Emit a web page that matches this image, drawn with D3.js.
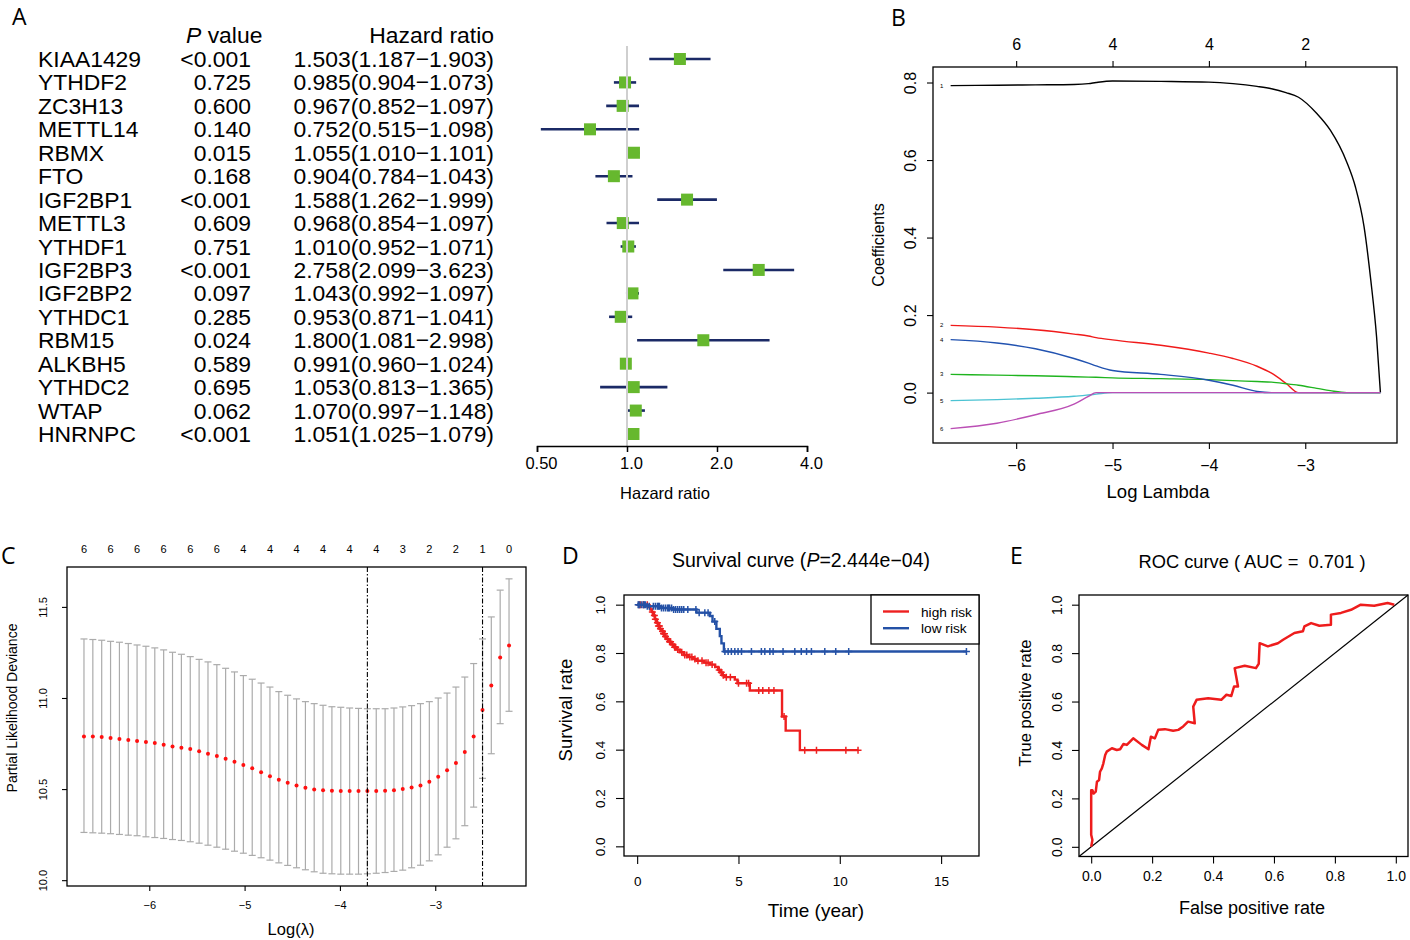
<!DOCTYPE html>
<html>
<head>
<meta charset="utf-8">
<script src="https://cdn.jsdelivr.net/npm/d3@7"></script>
<style>
body { margin: 0; background: #fff; }
</style>
</head>
<body>
<script>
const FONT = '"Liberation Sans", Arial, Helvetica, sans-serif';

// ---- Panel A: univariate Cox forest plot ----
const genes = ["KIAA1429", "YTHDF2", "ZC3H13", "METTL14", "RBMX", "FTO", "IGF2BP1", "METTL3", "YTHDF1",
    "IGF2BP3", "IGF2BP2", "YTHDC1", "RBM15", "ALKBH5", "YTHDC2", "WTAP", "HNRNPC"];
const pValues = ["<0.001", "0.725", "0.600", "0.140", "0.015", "0.168", "<0.001", "0.609", "0.751",
    "<0.001", "0.097", "0.285", "0.024", "0.589", "0.695", "0.062", "<0.001"];
const hr = [1.503, 0.985, 0.967, 0.752, 1.055, 0.904, 1.588, 0.968, 1.010, 2.758, 1.043, 0.953, 1.800, 0.991, 1.053, 1.070, 1.051];
const hrLow = [1.187, 0.904, 0.852, 0.515, 1.010, 0.784, 1.262, 0.854, 0.952, 2.099, 0.992, 0.871, 1.081, 0.960, 0.813, 0.997, 1.025];
const hrHigh = [1.903, 1.073, 1.097, 1.098, 1.101, 1.043, 1.999, 1.097, 1.071, 3.623, 1.097, 1.041, 2.998, 1.024, 1.365, 1.148, 1.079];
const hrTicks = [0.5, 1, 2, 4];
const hrTickLabels = ["0.50", "1.0", "2.0", "4.0"];

// ---- Panel B: LASSO coefficient paths ----
const pathLambda = [-6.68, -6.2, -5.8, -5.4, -5.25, -5.17, -5.0, -4.5, -4.0, -3.75, -3.5, -3.35, -3.2, -3.07, -2.88, -2.74, -2.57, -2.48, -2.39, -2.32, -2.26, -2.22];
const coef1 = [0.792, 0.793, 0.794, 0.795, 0.797, 0.800, 0.804, 0.803, 0.801, 0.797, 0.790, 0.784, 0.774, 0.762, 0.720, 0.677, 0.595, 0.531, 0.428, 0.290, 0.144, 0];
const coef2 = [0.1735, 0.169, 0.162, 0.151, 0.146, 0.142, 0.136, 0.122, 0.102, 0.088, 0.068, 0.050, 0.024, 0, 0, 0, 0, 0, 0, 0, 0, 0];
const coef3 = [0.047, 0.045, 0.0435, 0.041, 0.040, 0.0395, 0.038, 0.036, 0.0335, 0.031, 0.0285, 0.027, 0.023, 0.019, 0.011, 0.005, 0, 0, 0, 0, 0, 0];
const coef4 = [0.1366, 0.128, 0.113, 0.088, 0.076, 0.069, 0.057, 0.047, 0.032, 0.019, 0.003, 0, 0, 0, 0, 0, 0, 0, 0, 0, 0, 0];
const coef5 = [-0.0206, -0.018, -0.0146, -0.0095, -0.006, -0.004, 0, 0, 0, 0, 0, 0, 0, 0, 0, 0, 0, 0, 0, 0, 0, 0];
const coef6 = [-0.0928, -0.079, -0.057, -0.030, -0.010, 0, 0, 0, 0, 0, 0, 0, 0, 0, 0, 0, 0, 0, 0, 0, 0, 0];
const pathTopLabels = ["6", "4", "4", "2"];

// ---- Panel C: cross-validation deviance ----
const cvLambda = [-6.685, -6.592, -6.499, -6.406, -6.313, -6.220, -6.128, -6.035, -5.942, -5.849, -5.756, -5.663,
    -5.570, -5.477, -5.384, -5.291, -5.199, -5.106, -5.013, -4.920, -4.827, -4.734, -4.641, -4.548, -4.455,
    -4.362, -4.270, -4.177, -4.084, -3.991, -3.898, -3.805, -3.712, -3.619, -3.526, -3.433, -3.341, -3.248,
    -3.155, -3.062, -2.969, -2.876, -2.783, -2.690, -2.597, -2.504, -2.412, -2.319, -2.226];
const cvMean = [10.789, 10.789, 10.786, 10.780, 10.775, 10.770, 10.764, 10.758, 10.753, 10.744, 10.734, 10.727,
    10.720, 10.707, 10.694, 10.681, 10.667, 10.650, 10.632, 10.614, 10.592, 10.570, 10.551, 10.535, 10.520,
    10.507, 10.498, 10.494, 10.491, 10.489, 10.489, 10.489, 10.489, 10.489, 10.491, 10.494, 10.500, 10.509,
    10.520, 10.540, 10.568, 10.603, 10.643, 10.703, 10.789, 10.934, 11.068, 11.222, 11.288];
const cvUp = [11.324, 11.321, 11.317, 11.311, 11.306, 11.299, 11.291, 11.284, 11.275, 11.264, 11.251, 11.240,
    11.227, 11.212, 11.198, 11.183, 11.163, 11.143, 11.123, 11.103, 11.082, 11.060, 11.035, 11.015, 10.995,
    10.980, 10.969, 10.960, 10.952, 10.949, 10.945, 10.943, 10.941, 10.941, 10.941, 10.945, 10.951, 10.958,
    10.969, 10.980, 11.000, 11.027, 11.060, 11.115, 11.189, 11.324, 11.445, 11.592, 11.654];
const cvLo = [10.262, 10.260, 10.258, 10.255, 10.251, 10.247, 10.244, 10.238, 10.234, 10.229, 10.223, 10.218,
    10.211, 10.203, 10.192, 10.181, 10.170, 10.159, 10.148, 10.136, 10.123, 10.110, 10.095, 10.081, 10.068,
    10.057, 10.046, 10.038, 10.035, 10.033, 10.033, 10.033, 10.035, 10.038, 10.042, 10.048, 10.055, 10.068,
    10.082, 10.106, 10.139, 10.181, 10.227, 10.299, 10.401, 10.559, 10.694, 10.859, 10.927];
const cvNonzero = ["6", "6", "6", "6", "6", "6", "4", "4", "4", "4", "4", "4", "3", "2", "2", "1", "0"];
const lambdaMin = -3.712;
const lambda1se = -2.504;

// ---- Panel D: Kaplan-Meier ----
const highTime = [0.55, 0.65, 0.72, 0.80, 0.88, 0.95, 1.03, 1.12, 1.20, 1.28, 1.37, 1.45, 1.55, 1.69, 1.82, 1.94,
    2.10, 2.30, 2.50, 2.75, 2.95, 3.30, 3.60, 3.85, 4.00, 4.10, 4.20, 4.30, 4.82, 4.95, 5.56, 7.15, 7.33, 8.03];
const highSurv = [0.99, 0.98, 0.97, 0.955, 0.94, 0.925, 0.912, 0.90, 0.89, 0.88, 0.868, 0.858, 0.847, 0.835, 0.824, 0.814,
    0.803, 0.792, 0.783, 0.775, 0.768, 0.76, 0.752, 0.742, 0.73, 0.72, 0.708, 0.70, 0.69, 0.675, 0.645, 0.537, 0.479, 0.398];
const highCensor = [0.1, 0.15, 0.3, 0.5, 0.75, 0.85, 0.9, 1.0, 1.05, 1.1, 1.15, 1.25, 1.3, 1.35, 1.4, 1.5, 1.6, 1.65,
    1.75, 1.85, 1.9, 2.0, 2.2, 2.35, 2.45, 2.6, 2.7, 2.85, 3.0, 3.2, 3.4, 3.5, 3.7, 4.05, 4.15, 4.25, 4.4, 4.6,
    5.0, 5.4, 5.5, 6.0, 6.2, 6.5, 6.75, 7.25, 8.27, 8.85, 10.3, 10.9];
const lowTime = [0.45, 1.12, 1.75, 2.93, 3.59, 3.72, 3.91, 4.08, 4.16, 4.28];
const lowSurv = [0.993, 0.986, 0.98, 0.967, 0.953, 0.93, 0.90, 0.87, 0.84, 0.806];
const lowCensor = [0.05, 0.1, 0.2, 0.3, 0.35, 0.4, 0.5, 0.6, 0.8, 0.9, 1.0, 1.05, 1.1, 1.2, 1.3, 1.4, 1.5, 1.55, 1.6,
    1.7, 1.8, 1.9, 2.0, 2.1, 2.2, 2.3, 2.5, 2.9, 3.06, 3.34, 3.5, 3.83, 4.33, 4.49, 4.65, 4.82, 4.98, 5.15, 5.64,
    6.13, 6.3, 6.55, 6.71, 7.2, 7.78, 8.1, 8.36, 8.6, 9.26, 9.8, 10.44, 16.25];
const survGroups = ["high risk", "low risk"];

// ---- Panel E: ROC ----
const rocFpr = [0, 0.004, 0, 0, 0.004, 0.008, 0.015, 0.019, 0.026, 0.029, 0.035, 0.04, 0.046, 0.051, 0.068, 0.084,
    0.095, 0.106, 0.117, 0.138, 0.166, 0.188, 0.196, 0.209, 0.22, 0.242, 0.269, 0.286, 0.302, 0.318, 0.34, 0.335,
    0.346, 0.384, 0.427, 0.444, 0.46, 0.469, 0.482, 0.471, 0.504, 0.541, 0.55, 0.553, 0.58, 0.613, 0.63, 0.667,
    0.695, 0.7, 0.722, 0.749, 0.787, 0.787, 0.82, 0.853, 0.885, 0.929, 0.973, 0.995];
const rocTpr = [0, 0.028, 0.05, 0.234, 0.234, 0.22, 0.228, 0.269, 0.276, 0.31, 0.324, 0.345, 0.379, 0.393, 0.407, 0.40,
    0.403, 0.425, 0.421, 0.448, 0.421, 0.403, 0.455, 0.448, 0.483, 0.486, 0.479, 0.483, 0.497, 0.517, 0.51, 0.579,
    0.607, 0.614, 0.607, 0.628, 0.623, 0.662, 0.662, 0.738, 0.748, 0.738, 0.756, 0.841, 0.828, 0.841, 0.855, 0.883,
    0.89, 0.91, 0.924, 0.913, 0.917, 0.959, 0.966, 0.979, 1.0, 0.996, 1.007, 1.0];
const auc = 0.701;

const svg = d3.select("body").append("svg")
    .attr("width", 1410)
    .attr("height", 940)
    .attr("font-family", FONT);

// panel letters
[["A", 12, 25], ["B", 891, 26], ["C", 1, 564], ["D", 562, 564], ["E", 1010, 564]].forEach(([t, x, y]) => {
    svg.append("text").attr("x", x).attr("y", y)
        .attr("font-family", '"Open Sans", "DejaVu Sans", sans-serif')
        .attr("font-size", 23).text(t);
});

// shared axis styling helpers
function styleAxis(g, size) {
    g.attr("font-family", FONT).attr("font-size", size);
    g.select(".domain").remove();
    g.selectAll(".tick line").attr("stroke", "#000").attr("stroke-width", 1.1);
}
function bottomLabels(g, off) {
    g.selectAll(".tick text").attr("y", off).attr("dy", null);
}
function leftRotated(g, off) {
    g.selectAll(".tick text")
        .attr("x", 0).attr("dy", null)
        .attr("text-anchor", "middle")
        .attr("transform", `translate(${-off},0) rotate(-90)`);
}
function box(x, y) {
    svg.append("rect")
        .attr("x", x.range()[0]).attr("y", y.range()[1])
        .attr("width", x.range()[1] - x.range()[0])
        .attr("height", y.range()[0] - y.range()[1])
        .attr("fill", "none").attr("stroke", "#000").attr("stroke-width", 1.3);
}

// ================= Panel A =================
(function () {
    const x = d3.scaleLog().base(2).domain([0.5, 4]).range([537, 807]);
    const y = d3.scalePoint().domain(genes).range([59, 434]);
    const fmt = d3.format(".3f");
    const g = svg.append("g").attr("font-size", 22.9);

    const head = g.append("text").attr("x", 186).attr("y", 43);
    head.append("tspan").attr("font-style", "italic").text("P");
    head.append("tspan").text(" value");
    g.append("text").attr("x", 494).attr("y", 43).attr("text-anchor", "end").text("Hazard ratio");

    const rows = g.selectAll("g.row")
        .data(genes.map((d, i) => ({ gene: d, p: pValues[i], hr: hr[i], lo: hrLow[i], hi: hrHigh[i] })))
        .join("g")
        .attr("transform", d => `translate(0,${y(d.gene)})`);
    rows.append("text").attr("x", 38).attr("y", 8).text(d => d.gene);
    rows.append("text").attr("x", 251).attr("y", 8).attr("text-anchor", "end").text(d => d.p);
    rows.append("text").attr("x", 494).attr("y", 8).attr("text-anchor", "end")
        .text(d => `${fmt(d.hr)}(${fmt(d.lo)}\u2212${fmt(d.hi)})`);

    // reference line at HR = 1
    g.append("line")
        .attr("x1", x(1)).attr("x2", x(1))
        .attr("y1", 46).attr("y2", 446)
        .attr("stroke", "#cfcfcf").attr("stroke-width", 2);

    rows.append("line")
        .attr("x1", d => x(d.lo)).attr("x2", d => x(d.hi))
        .attr("stroke", "#1b2a66").attr("stroke-width", 2.6);
    rows.append("rect")
        .attr("x", d => x(d.hr) - 6).attr("y", -6)
        .attr("width", 12).attr("height", 12)
        .attr("fill", "#66b82e");

    const ax = g.append("g")
        .attr("transform", "translate(0,446)")
        .call(d3.axisBottom(x).tickValues(hrTicks).tickFormat((d, i) => hrTickLabels[i]).tickSizeOuter(0).tickSize(6));
    ax.attr("font-family", FONT).attr("font-size", 16.5);
    ax.select(".domain").attr("stroke", "#000").attr("stroke-width", 1.5);
    ax.selectAll(".tick line").attr("stroke-width", 1.5);
    bottomLabels(ax, 23);
    ax.selectAll(".tick text").attr("dx", 4);
    g.append("text").attr("x", 665).attr("y", 499).attr("text-anchor", "middle")
        .attr("font-size", 16.5).text("Hazard ratio");
})();

// ================= Panel B =================
(function () {
    const x = d3.scaleLinear().domain([-6.863, -2.048]).range([933, 1397]);
    const y = d3.scaleLinear().domain([-0.130, 0.840]).range([443, 67]);
    const series = [
        { id: "1", values: coef1, color: "#000000" },
        { id: "2", values: coef2, color: "#f01a1a" },
        { id: "3", values: coef3, color: "#1fb41f" },
        { id: "4", values: coef4, color: "#2152b0" },
        { id: "5", values: coef5, color: "#4cc3d3" },
        { id: "6", values: coef6, color: "#bb4fb5" }
    ];
    const line = d3.line().x((d, i) => x(pathLambda[i])).y(d => y(d)).curve(d3.curveMonotoneX);
    svg.append("g").selectAll("path")
        .data(series)
        .join("path")
        .attr("d", d => line(d.values))
        .attr("fill", "none")
        .attr("stroke", d => d.color)
        .attr("stroke-width", 1.4);
    svg.append("g").selectAll("text")
        .data(series)
        .join("text")
        .attr("x", x(pathLambda[0]) - 9)
        .attr("y", d => y(d.values[0]) + 2)
        .attr("text-anchor", "middle")
        .attr("font-size", 6)
        .text(d => d.id);

    box(x, y);
    const bx = svg.append("g").attr("transform", "translate(0,443)")
        .call(d3.axisBottom(x).tickValues([-6, -5, -4, -3]).tickFormat(d3.format("d")).tickSize(6));
    styleAxis(bx, 16);
    bottomLabels(bx, 28);
    const tx = svg.append("g").attr("transform", "translate(0,67)")
        .call(d3.axisTop(x).tickValues([-6, -5, -4, -3]).tickFormat((d, i) => pathTopLabels[i]).tickSize(6));
    styleAxis(tx, 16);
    tx.selectAll(".tick text").attr("y", -17).attr("dy", null);
    const ly = svg.append("g").attr("transform", "translate(933,0)")
        .call(d3.axisLeft(y).tickValues([0, 0.2, 0.4, 0.6, 0.8]).tickFormat(d3.format(".1f")).tickSize(6));
    styleAxis(ly, 16);
    leftRotated(ly, 17);

    svg.append("text").attr("x", 1158).attr("y", 498).attr("text-anchor", "middle")
        .attr("font-size", 18.5).text("Log Lambda");
    svg.append("text").attr("transform", "translate(884,245) rotate(-90)")
        .attr("text-anchor", "middle").attr("font-size", 16).text("Coefficients");
})();

// ================= Panel C =================
(function () {
    const x = d3.scaleLinear().domain([-6.863, -2.048]).range([67, 526]);
    const y = d3.scaleLinear().domain([9.968, 11.719]).range([886, 567]);
    const pts = cvLambda.map((l, i) => ({ l, m: cvMean[i], up: cvUp[i], lo: cvLo[i] }));
    const g = svg.append("g");
    const bars = g.selectAll("g.bar").data(pts).join("g")
        .attr("stroke", "#ababab").attr("stroke-width", 1.2);
    bars.append("line")
        .attr("x1", d => x(d.l)).attr("x2", d => x(d.l))
        .attr("y1", d => y(d.up)).attr("y2", d => y(d.lo));
    bars.append("line")
        .attr("x1", d => x(d.l) - 3.5).attr("x2", d => x(d.l) + 3.5)
        .attr("y1", d => y(d.up)).attr("y2", d => y(d.up));
    bars.append("line")
        .attr("x1", d => x(d.l) - 3.5).attr("x2", d => x(d.l) + 3.5)
        .attr("y1", d => y(d.lo)).attr("y2", d => y(d.lo));
    g.selectAll("circle").data(pts).join("circle")
        .attr("cx", d => x(d.l)).attr("cy", d => y(d.m))
        .attr("r", 2).attr("fill", "#ff1010");

    [lambdaMin, lambda1se].forEach(v => {
        g.append("line")
            .attr("x1", x(v)).attr("x2", x(v))
            .attr("y1", y.range()[1]).attr("y2", y.range()[0])
            .attr("stroke", "#000").attr("stroke-width", 1.1)
            .attr("stroke-dasharray", "5,2,1.5,2");
    });

    box(x, y);
    const bx = svg.append("g").attr("transform", "translate(0,886)")
        .call(d3.axisBottom(x).tickValues([-6, -5, -4, -3]).tickFormat(d3.format("d")).tickSize(5));
    styleAxis(bx, 11);
    bottomLabels(bx, 23);
    const ly = svg.append("g").attr("transform", "translate(67,0)")
        .call(d3.axisLeft(y).tickValues([10, 10.5, 11, 11.5]).tickFormat(d3.format(".1f")).tickSize(5));
    styleAxis(ly, 11);
    leftRotated(ly, 20);

    svg.append("g").selectAll("text")
        .data(cvNonzero)
        .join("text")
        .attr("x", (d, i) => x(cvLambda[i * 3]))
        .attr("y", 553)
        .attr("text-anchor", "middle")
        .attr("font-size", 11)
        .text(d => d);

    svg.append("text").attr("x", 291).attr("y", 935).attr("text-anchor", "middle")
        .attr("font-size", 16.5).text("Log(\u03bb)");
    svg.append("text").attr("transform", "translate(17,708) rotate(-90)")
        .attr("text-anchor", "middle").attr("font-size", 14).text("Partial Likelihood Deviance");
})();

// ================= Panel D =================
(function () {
    const x = d3.scaleLinear().domain([-0.649, 16.87]).range([624, 979]);
    const y = d3.scaleLinear().domain([-0.04, 1.04]).range([856, 595]);
    const groups = [
        { name: survGroups[0], time: highTime, surv: highSurv, censor: highCensor, color: "#ee2020" },
        { name: survGroups[1], time: lowTime, surv: lowSurv, censor: lowCensor, color: "#2451a6" }
    ];
    const step = d3.line().x(d => x(d[0])).y(d => y(d[1])).curve(d3.curveStepAfter);
    const survAt = (gr, t) => {
        let s = 1;
        gr.time.forEach((tt, i) => { if (tt <= t) s = gr.surv[i]; });
        return s;
    };
    groups.forEach(gr => {
        const pts = [[0, 1]].concat(gr.time.map((t, i) => [t, gr.surv[i]]));
        pts.push([d3.max(gr.censor), gr.surv[gr.surv.length - 1]]);
        svg.append("path")
            .attr("d", step(pts))
            .attr("fill", "none")
            .attr("stroke", gr.color)
            .attr("stroke-width", 2.4);
        svg.append("g").attr("stroke", gr.color).attr("stroke-width", 1.5)
            .selectAll("path")
            .data(gr.censor)
            .join("path")
            .attr("d", t => {
                const cx = x(t), cy = y(survAt(gr, t));
                return `M${cx - 3.5},${cy}H${cx + 3.5}M${cx},${cy - 3.5}V${cy + 3.5}`;
            });
    });

    box(x, y);
    const bx = svg.append("g").attr("transform", "translate(0,856)")
        .call(d3.axisBottom(x).tickValues([0, 5, 10, 15]).tickSize(8));
    styleAxis(bx, 13.5);
    bottomLabels(bx, 30);
    const ly = svg.append("g").attr("transform", "translate(624,0)")
        .call(d3.axisLeft(y).tickValues([0, 0.2, 0.4, 0.6, 0.8, 1.0]).tickFormat(d3.format(".1f")).tickSize(8));
    styleAxis(ly, 13.5);
    leftRotated(ly, 19);

    // legend
    const lg = svg.append("g");
    lg.append("rect").attr("x", 871).attr("y", 595).attr("width", 108).attr("height", 49)
        .attr("fill", "#fff").attr("stroke", "#000").attr("stroke-width", 1.3);
    groups.forEach((gr, i) => {
        const ly0 = 611.5 + i * 16.7;
        lg.append("line").attr("x1", 883).attr("x2", 909).attr("y1", ly0).attr("y2", ly0)
            .attr("stroke", gr.color).attr("stroke-width", 2.4);
        lg.append("text").attr("x", 921).attr("y", ly0 + 5).attr("font-size", 13.7).text(gr.name);
    });

    const title = svg.append("text").attr("x", 801).attr("y", 567).attr("text-anchor", "middle").attr("font-size", 19.5);
    title.append("tspan").text("Survival curve (");
    title.append("tspan").attr("font-style", "italic").text("P");
    title.append("tspan").text("=2.444e\u221204)");
    svg.append("text").attr("x", 816).attr("y", 917).attr("text-anchor", "middle")
        .attr("font-size", 19).text("Time (year)");
    svg.append("text").attr("transform", "translate(572,710) rotate(-90)")
        .attr("text-anchor", "middle").attr("font-size", 18.5).text("Survival rate");
})();

// ================= Panel E =================
(function () {
    const x = d3.scaleLinear().domain([-0.04, 1.04]).range([1079, 1408]);
    const y = d3.scaleLinear().domain([-0.04, 1.04]).range([856.5, 595]);
    svg.append("line")
        .attr("x1", x(x.domain()[0])).attr("y1", y(y.domain()[0]))
        .attr("x2", x(x.domain()[1])).attr("y2", y(y.domain()[1]))
        .attr("stroke", "#000").attr("stroke-width", 1.2);
    const line = d3.line().x(d => x(d[0])).y(d => y(d[1]));
    svg.append("path")
        .attr("d", line(rocFpr.map((f, i) => [f, rocTpr[i]])))
        .attr("fill", "none")
        .attr("stroke", "#ee1c1c")
        .attr("stroke-width", 2.5)
        .attr("stroke-linejoin", "round");

    box(x, y);
    const ticks = [0, 0.2, 0.4, 0.6, 0.8, 1.0];
    const bx = svg.append("g").attr("transform", "translate(0,856.5)")
        .call(d3.axisBottom(x).tickValues(ticks).tickFormat(d3.format(".1f")).tickSize(7));
    styleAxis(bx, 14);
    bottomLabels(bx, 24);
    const ly = svg.append("g").attr("transform", "translate(1079,0)")
        .call(d3.axisLeft(y).tickValues(ticks).tickFormat(d3.format(".1f")).tickSize(7));
    styleAxis(ly, 14);
    leftRotated(ly, 17);

    svg.append("text").attr("x", 1252).attr("y", 568).attr("text-anchor", "middle")
        .attr("font-size", 18.3).style("white-space", "pre")
        .text(`ROC curve ( AUC =  ${d3.format(".3f")(auc)} )`);
    svg.append("text").attr("x", 1252).attr("y", 914).attr("text-anchor", "middle")
        .attr("font-size", 18).text("False positive rate");
    svg.append("text").attr("transform", "translate(1031,703) rotate(-90)")
        .attr("text-anchor", "middle").attr("font-size", 16.5).text("True positive rate");
})();
</script>
</body>
</html>
